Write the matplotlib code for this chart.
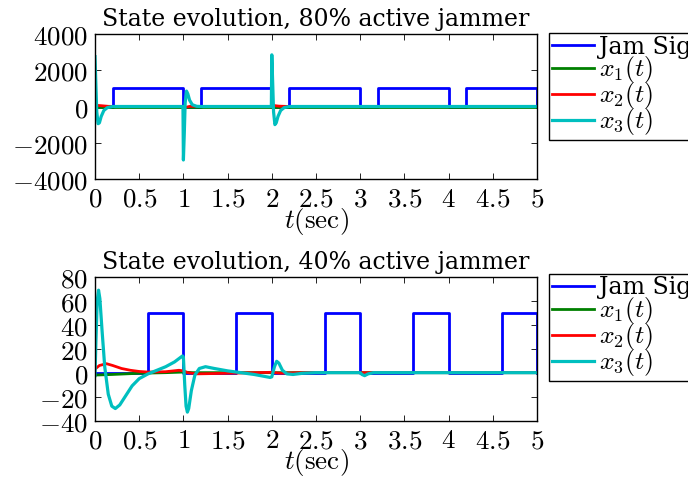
import matplotlib
matplotlib.use("Agg")
import matplotlib.pyplot as plt
from matplotlib.ticker import FuncFormatter

plt.rcParams['font.family'] = ['DejaVu Serif']
plt.rcParams['mathtext.fontset'] = 'cm'

# ---- data ----
titles = ["State evolution, 80% active jammer", "State evolution, 40% active jammer"]

# jammer square waves (on / off times and amplitude)
jam80_on = [0.2, 1.2, 2.2, 3.2, 4.2]
jam80_off = [1.0, 2.0, 3.0, 4.0, 5.0]
jam80_amp = 1000
jam40_on = [0.6, 1.6, 2.6, 3.6, 4.6]
jam40_off = [1.0, 2.0, 3.0, 4.0, 5.0]
jam40_amp = 50

# top panel states
t80_x3 = [0, 0.01, 0.02, 0.035, 0.05, 0.07, 0.1, 0.14, 0.2,
          0.995, 1.0, 1.01, 1.02, 1.035, 1.05, 1.07, 1.1, 1.15, 1.2,
          1.995, 2.0, 2.01, 2.02, 2.035, 2.05, 2.07, 2.1, 2.14, 2.2, 5.0]
x3_80 = [2750, 1200, -300, -950, -900, -550, -220, -60, 0,
         0, -2950, -1500, 200, 850, 700, 350, 100, 10, 0,
         0, 2850, 1300, -300, -1000, -900, -550, -220, -60, 0, 0]
t80_x2 = [0, 0.03, 0.08, 0.15, 0.3, 1.0, 1.03, 1.08, 1.2, 2.0, 2.03, 2.08, 2.2, 5.0]
x2_80 = [0, 60, 40, 10, 0, 0, -40, 15, 0, 0, 50, 20, 0, 0]
t80_x1 = [0, 5.0]
x1_80 = [0, 0]

# bottom panel states
t40_x3 = [0, 0.01, 0.025, 0.04, 0.055, 0.08, 0.11, 0.15, 0.19, 0.23, 0.28, 0.35,
          0.42, 0.5, 0.6, 0.7, 0.8, 0.9, 0.99, 1.0, 1.015, 1.03, 1.045, 1.06,
          1.09, 1.13, 1.18, 1.25, 1.35, 1.5, 1.6, 1.8, 1.98, 2.0, 2.03, 2.055,
          2.08, 2.12, 2.17, 2.24, 2.35, 2.5, 3.0, 3.02, 3.05, 3.09, 3.15, 5.0]
x3_40 = [-2.5, 25, 60, 69, 62, 35, 5, -18, -28, -30, -27, -19,
         -11, -5, -1, 2, 5, 9, 14, 13, -10, -28, -33, -30,
         -15, -2, 3.5, 5, 3.5, 1.5, 0.5, -1.5, -4, -3.5, 5, 9.5,
         8, 2, -1, -1.5, -0.5, 0, 0, -1.5, -2.5, -1, 0, 0]
t40_x2 = [0, 0.05, 0.13, 0.2, 0.3, 0.4, 0.5, 0.6, 0.8, 0.95, 1.0, 1.05,
          1.15, 1.3, 1.5, 1.8, 2.0, 2.1, 2.3, 5.0]
x2_40 = [3, 6, 7.5, 6, 3.5, 2, 1, 0.5, 0.8, 2, 1.5, 0,
         -1, -0.8, -0.5, 0, 0.3, -0.5, 0, 0]
t40_x1 = [0, 0.2, 0.5, 0.8, 1.0, 1.1, 5.0]
x1_40 = [-2, -1.5, -0.5, 0, 0.5, 0, 0]

yticks = [[-4000, -2000, 0, 2000, 4000], [-40, -20, 0, 20, 40, 60, 80]]
ylims = [(-4000, 4000), (-40, 80)]
xticks = [0, 0.5, 1, 1.5, 2, 2.5, 3, 3.5, 4, 4.5, 5]
labels = ["Jam Sig", r"$x_1(t)$", r"$x_2(t)$", r"$x_3(t)$"]

c_jam, c_x1, c_x2, c_x3 = "#0000ff", "#008000", "#ff0000", "#00bfbf"


def square_wave(on, off, amp):
    ts, vs = [0], [0]
    for a, b in zip(on, off):
        ts += [a, a, b, b]
        vs += [0, amp, amp, 0]
    return ts, vs


def math_fmt(v, pos):
    return "$%g$" % v


fig = plt.figure(figsize=(6.88, 4.83), dpi=100)
ax1 = fig.add_axes([95 / 688, 1 - 179 / 483, 442 / 688, 145 / 483])
ax2 = fig.add_axes([95 / 688, 1 - 420.5 / 483, 442 / 688, 143.5 / 483])

panels = [
    (ax1, square_wave(jam80_on, jam80_off, jam80_amp),
     (t80_x1, x1_80), (t80_x2, x2_80), (t80_x3, x3_80)),
    (ax2, square_wave(jam40_on, jam40_off, jam40_amp),
     (t40_x1, x1_40), (t40_x2, x2_40), (t40_x3, x3_40)),
]

for i, (ax, jam, s1, s2, s3) in enumerate(panels):
    ax.plot(jam[0], jam[1], color=c_jam, lw=2, label=labels[0])
    ax.plot(s1[0], s1[1], color=c_x1, lw=2, label=labels[1])
    ax.plot(s2[0], s2[1], color=c_x2, lw=2, label=labels[2])
    ax.plot(s3[0], s3[1], color=c_x3, lw=2.3, label=labels[3])

    ax.set_xlim(0, 5)
    ax.set_ylim(*ylims[i])
    ax.set_xticks(xticks)
    ax.set_yticks(yticks[i])
    ax.xaxis.set_major_formatter(FuncFormatter(math_fmt))
    ax.yaxis.set_major_formatter(FuncFormatter(math_fmt))
    ax.tick_params(direction="in", top=True, right=True, labelsize=19.5,
                   length=4, width=0.6)
    ax.tick_params(axis="y", pad=5)
    ax.tick_params(axis="x", pad=5)
    for sp in ax.spines.values():
        sp.set_linewidth(1.0)
    ax.set_title(titles[i], fontsize=17, pad=6)
    ax.set_xlabel(r"$t\mathrm{(sec)}$", fontsize=19.5, labelpad=-5)

    leg = ax.legend(loc="upper left", bbox_to_anchor=(1.028, 1.005 if i == 0 else 1.02),
                    fontsize=17, handlelength=1.8, handletextpad=0.2,
                    labelspacing=-0.2, borderpad=0.1, borderaxespad=0,
                    fancybox=False, framealpha=1, edgecolor="black")
    leg.get_frame().set_linewidth(1.0)
    for txt in leg.get_texts()[1:]:
        txt.set_fontsize(18.5)

fig.savefig("out.png", dpi=100)
